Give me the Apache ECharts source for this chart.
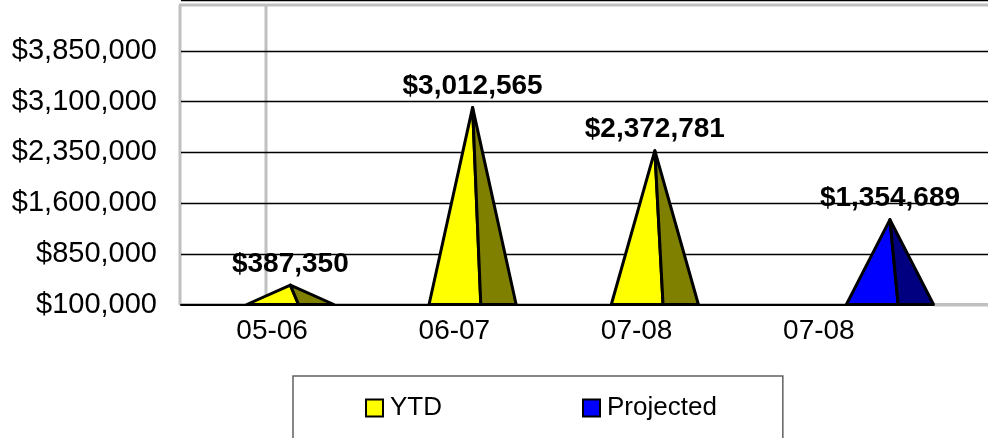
<!DOCTYPE html>
<html>
<head>
<meta charset="utf-8">
<script src="https://cdn.jsdelivr.net/npm/echarts@6/dist/echarts.min.js"></script>
<style>
    html, body { margin: 0; padding: 0; background: #fff; }
    #chart { width: 988px; height: 438px; }
</style>
</head>
<body>
<div id="chart"></div>
<script>
// data
const categories = ["05-06", "06-07", "07-08", "07-08"];
const ytdValues = [387350, 3012565, 2372781, null];
const projectedValues = [null, null, null, 1354689];
const yMin = 100000;
const yMax = 4600000;
const yStep = 750000;

const font = "Liberation Sans, Arial, sans-serif";

function money(v) {
    return "$" + Number(v).toLocaleString("en-US");
}

function toPoints(values) {
    return values
        .map(function (v, i) { return [i, v]; })
        .filter(function (d) { return d[1] != null; });
}

// excel style pyramid: bright left face, dark right face, value label on top
function pyramid(shift, light, dark) {
    return function (params, api) {
        let v = api.value(1);
        let band = api.size([1, 0])[0];
        let top = api.coord([api.value(0), v]);
        let base = api.coord([api.value(0), yMin]);
        let cx = top[0] + band * shift;
        let half = band * 0.239;
        let split = cx + band * 0.045;
        let by = base[1];
        let ty = top[1];
        return {
            type: "group",
            children: [
                {
                    type: "polygon",
                    shape: { points: [[cx - half, by], [cx, ty], [split, by]] },
                    style: { fill: light, stroke: "#000", lineWidth: 3, lineJoin: "round" }
                },
                {
                    type: "polygon",
                    shape: { points: [[split, by], [cx, ty], [cx + half, by]] },
                    style: { fill: dark, stroke: "#000", lineWidth: 3, lineJoin: "round" }
                },
                {
                    type: "text",
                    x: cx,
                    y: ty - 7,
                    style: {
                        text: money(v),
                        fontFamily: font,
                        fontSize: 28,
                        fontWeight: "bold",
                        fill: "#000",
                        align: "center",
                        verticalAlign: "bottom"
                    }
                }
            ]
        };
    };
}

let chartInstance = echarts.init(document.getElementById("chart"));

let option = {
    animation: false,
    textStyle: { fontFamily: font },
    legend: {
        data: ["YTD", "Projected"],
        left: 293,
        top: 376,
        padding: [17, 66, 80, 72],
        itemGap: 140,
        itemWidth: 17,
        itemHeight: 17,
        icon: "rect",
        borderColor: "#606060",
        borderWidth: 1.5,
        itemStyle: { borderColor: "#000", borderWidth: 2 },
        textStyle: { fontSize: 26, color: "#000", lineHeight: 30, padding: [0, 0, 0, 2] }
    },
    graphic: [
        { type: "line", z: -10, shape: { x1: 180, y1: 5, x2: 180, y2: 305 }, style: { stroke: "#c0c0c0", lineWidth: 3 } },
        { type: "line", z: -10, shape: { x1: 266, y1: 5, x2: 266, y2: 305 }, style: { stroke: "#c0c0c0", lineWidth: 3 } },
        { type: "line", z: -10, shape: { x1: 179, y1: 5, x2: 988, y2: 5 }, style: { stroke: "#c0c0c0", lineWidth: 3 } },
        { type: "line", z: 1, shape: { x1: 934, y1: 305, x2: 988, y2: 305 }, style: { stroke: "#c0c0c0", lineWidth: 3 } }
    ],
    grid: [
        { left: 181, top: -2, width: 729, height: 306.5 },
        { left: 181, top: -2, right: 0, height: 306.5 }
    ],
    xAxis: [
        {
            type: "category",
            gridIndex: 0,
            data: categories,
            axisLine: { lineStyle: { color: "#000", width: 2 } },
            axisTick: { length: 5, lineStyle: { color: "#333", width: 1.5 } },
            axisLabel: { fontSize: 28, color: "#000", margin: 13 }
        },
        { type: "value", gridIndex: 1, show: false }
    ],
    yAxis: [
        {
            type: "value",
            gridIndex: 0,
            min: yMin,
            max: yMax,
            interval: yStep,
            axisLine: { show: false },
            axisTick: { show: false },
            axisLabel: {
                fontSize: 29,
                color: "#000",
                margin: 24,
                formatter: function (v) { return v >= yMax ? "" : money(v); }
            },
            splitLine: { show: false }
        },
        {
            type: "value",
            gridIndex: 1,
            min: yMin,
            max: yMax,
            interval: yStep,
            axisLine: { show: false },
            axisTick: { show: false },
            axisLabel: { show: false },
            splitLine: { lineStyle: { color: "#000", width: 1.3 } }
        }
    ],
    series: [
        {
            name: "YTD",
            type: "custom",
            xAxisIndex: 0,
            yAxisIndex: 0,
            z: 5,
            itemStyle: { color: "#ffff00" },
            encode: { x: 0, y: 1 },
            renderItem: pyramid(0.1, "#ffff00", "#808000"),
            data: toPoints(ytdValues)
        },
        {
            name: "Projected",
            type: "custom",
            xAxisIndex: 0,
            yAxisIndex: 0,
            z: 5,
            itemStyle: { color: "#0000ff" },
            encode: { x: 0, y: 1 },
            renderItem: pyramid(0.39, "#0000ff", "#000080"),
            data: toPoints(projectedValues)
        }
    ]
};

chartInstance.setOption(option);
window.addEventListener("resize", chartInstance.resize);
</script>
</body>
</html>
